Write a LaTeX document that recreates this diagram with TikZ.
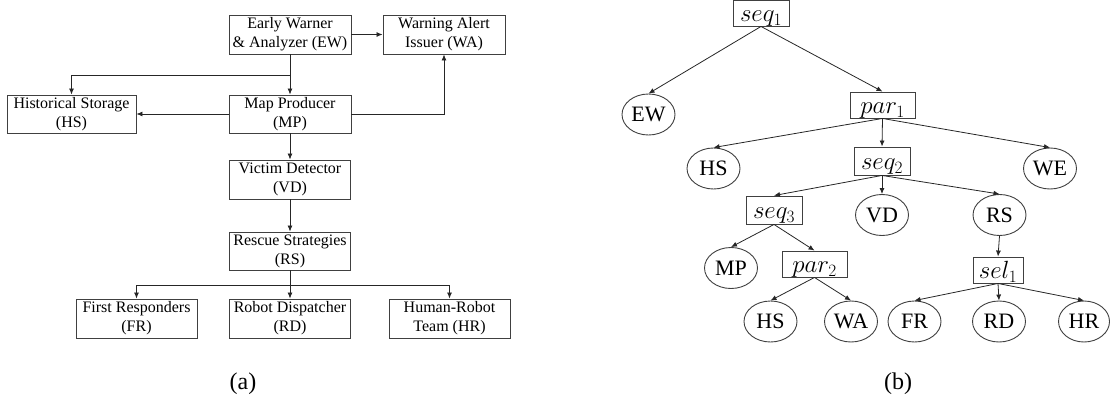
\documentclass[tikz,border=0pt]{standalone}
\usepackage{fontspec}
\setmainfont{Liberation Serif}
\usetikzlibrary{arrows.meta,shapes.geometric}

\begin{document}
\begin{tikzpicture}[x=1pt,y=-1pt,
  flow/.style={draw=black!75, line width=0.9pt, rectangle, inner sep=0pt,
    align=center, font=\fontsize{16}{19}\selectfont,
    minimum width=121pt, minimum height=39pt},
  op/.style={draw=black!75, line width=0.9pt, rectangle, inner sep=0pt,
    minimum height=26pt, text height=17pt, text depth=0pt,
    font=\fontsize{24}{26}\selectfont},
  leaf/.style={draw=black!75, line width=0.9pt, ellipse, inner sep=0pt,
    minimum width=53pt, minimum height=41pt,
    font=\fontsize{22}{24}\selectfont},
  arr/.style={-{Latex[length=6pt,width=5pt]}, line width=0.8pt, draw=black!85},
  caption/.style={font=\fontsize{24}{26}\selectfont},
]
\useasboundingbox (0,0) rectangle (1110,402);

% ---------- (a) component flow ----------
\node[flow, minimum width=122pt] (ew) at (290,34.5) {Early Warner\\\& Analyzer (EW)};
\node[flow, minimum width=122pt] (wa) at (444,34.5) {Warning Alert\\Issuer (WA)};
\node[flow, minimum width=129pt, minimum height=38pt] (hs) at (71.5,114) {Historical Storage\\(HS)};
\node[flow, minimum width=122pt, minimum height=38pt] (mp) at (290,114) {Map Producer\\(MP)};
\node[flow] (vd) at (290,179.5) {Victim Detector\\(VD)};
\node[flow, minimum height=38pt] (rs) at (290,251) {Rescue Strategies\\(RS)};
\node[flow] (fr) at (136.5,318.5) {First Responders\\(FR)};
\node[flow] (rd) at (290,318.5) {Robot Dispatcher\\(RD)};
\node[flow] (hr) at (449.5,318.5) {Human-Robot\\Team (HR)};

\coordinate (ewsplit) at (290,75);
\coordinate (rssplit) at (290,285);

\draw[arr] (ew.east) -- (wa.west);
\draw[arr] (ew.south) -- (mp.north);
\draw[arr] (ewsplit) -| (hs.north);
\draw[arr] (mp.west) -- (hs.east);
\draw[arr] (mp.east) -| (wa.south);
\draw[arr] (mp.south) -- (vd.north);
\draw[arr] (vd.south) -- (rs.north);
\draw[arr] (rs.south) -- (rd.north);
\draw[arr] (rssplit) -| (fr.north);
\draw[arr] (rssplit) -| (hr.north);

\node[caption] (capa) at (243,384) {(a)};

% ---------- (b) behaviour tree ----------
\node[op, minimum width=56pt] (seq1) at (761,13) {$seq_1$};
\node[op, minimum width=65pt] (par1) at (882.5,105) {$par_1$};
\node[op, minimum width=56pt, minimum height=28pt] (seq2) at (882,161) {$seq_2$};
\node[op, minimum width=56pt, minimum height=28pt] (seq3) at (774,210) {$seq_3$};
\node[op, minimum width=65pt] (par2) at (814.5,264) {$par_2$};
\node[op, minimum width=50pt] (sel1) at (998,270) {$sel_1$};

\node[leaf] (tew) at (648.5,114.5) {EW};
\node[leaf] (ths) at (713.5,168.5) {HS};
\node[leaf] (twe) at (1050,168.5) {WE};
\node[leaf] (tvd) at (882,215) {VD};
\node[leaf] (trs) at (999.5,215) {RS};
\node[leaf] (tmp) at (731,268) {MP};
\node[leaf] (ths2) at (770.5,321.5) {HS};
\node[leaf] (twa) at (851,321.5) {WA};
\node[leaf] (tfr) at (914.5,321.5) {FR};
\node[leaf] (trd) at (999,321.5) {RD};
\node[leaf, minimum width=51pt] (thr) at (1084,321.5) {HR};

\draw[arr] (seq1.south) -- (tew.north);
\draw[arr] (seq1.south) -- (par1.north);
\draw[arr] (par1.south) -- (ths.north);
\draw[arr] (par1.south) -- (seq2.north);
\draw[arr] (par1.south) -- (twe.north);
\draw[arr] (seq2.south) -- (seq3.north);
\draw[arr] (seq2.south) -- (tvd.north);
\draw[arr] (seq2.south) -- (trs.north);
\draw[arr] (seq3.south) -- (tmp.north);
\draw[arr] (seq3.south) -- (par2.north);
\draw[arr] (par2.south) -- (ths2.north);
\draw[arr] (par2.south) -- (twa.north);
\draw[arr] (trs.south) -- (sel1.north);
\draw[arr] (sel1.south) -- (tfr.north);
\draw[arr] (sel1.south) -- (trd.north);
\draw[arr] (sel1.south) -- (thr.north);

\node[caption] (capb) at (898,384) {(b)};
\end{tikzpicture}
\end{document}
